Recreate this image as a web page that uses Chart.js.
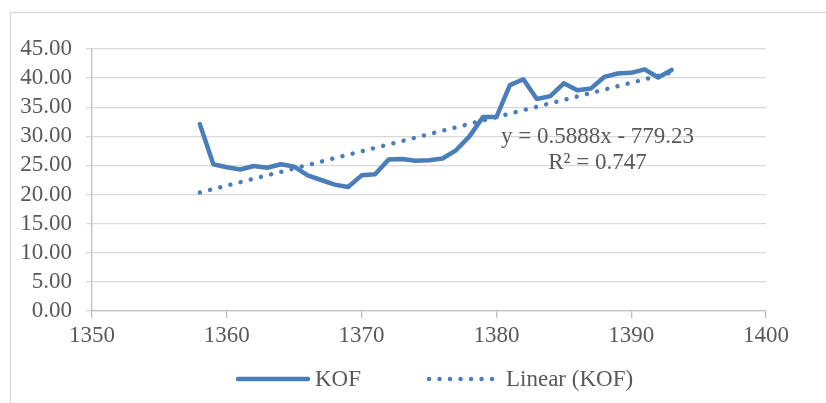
<!DOCTYPE html>
<html>
<head>
<meta charset="utf-8">
<script src="https://cdn.jsdelivr.net/npm/chart.js@4.4.1/dist/chart.umd.min.js"></script>
<style>
  html, body { margin: 0; padding: 0; background: #ffffff; }
  #wrap { width: 826px; height: 403px; position: relative; }
</style>
</head>
<body>
<div id="wrap"><canvas id="myChart" width="826" height="403"></canvas></div>
<script>
// years and KOF index values
var Anios = [1358, 1359, 1360, 1361, 1362, 1363, 1364, 1365, 1366, 1367, 1368, 1369,
             1370, 1371, 1372, 1373, 1374, 1375, 1376, 1377, 1378, 1379, 1380, 1381,
             1382, 1383, 1384, 1385, 1386, 1387, 1388, 1389, 1390, 1391, 1392, 1393]
var KOF = [32.1, 25.2, 24.7, 24.3, 24.9, 24.6, 25.2, 24.8, 23.3, 22.5, 21.7, 21.3,
           23.3, 23.5, 26.0, 26.1, 25.8, 25.9, 26.2, 27.6, 30.0, 33.3, 33.3, 38.8,
           39.8, 36.4, 36.9, 39.1, 37.9, 38.2, 40.2, 40.8, 40.9, 41.5, 40.1, 41.4]

// trend line as printed on the chart
var Pendiente = 0.5888
var Intercepto = -779.23
var Ecuacion = ['y = 0.5888x - 779.23', 'R\u00B2 = 0.747']

var EjeX = [1350, 1360, 1370, 1380, 1390, 1400]
var EjeY = [0, 5, 10, 15, 20, 25, 30, 35, 40, 45]

var Leyenda = ['KOF', 'Linear (KOF)']

var azul = '#4A7EBB'
var gris = '#595959'
var fuente = '"Liberation Serif", "Times New Roman", serif'

var puntos = Anios.map(function (a, i) { return { x: a, y: KOF[i] } })
var x0 = Anios[0], x1 = Anios[Anios.length - 1]
var tendencia = [
    { x: x0, y: Pendiente * x0 + Intercepto },
    { x: x1, y: Pendiente * x1 + Intercepto }
]

var marco = {
    id: 'marco',
    beforeDraw: function (chart) {
        var ctx = chart.ctx
        ctx.save()
        ctx.strokeStyle = '#D9D9D9'
        ctx.lineWidth = 1.3
        ctx.strokeRect(10.5, 12.5, 830, 400)
        ctx.restore()
    },
    afterDraw: function (chart) {
        var ctx = chart.ctx
        var sx = chart.scales.x, sy = chart.scales.y
        ctx.save()
        // equation label
        ctx.fillStyle = gris
        ctx.font = '23px ' + fuente
        ctx.textAlign = 'center'
        ctx.textBaseline = 'middle'
        var cx = sx.getPixelForValue(1387.5)
        ctx.fillText(Ecuacion[0], cx, sy.getPixelForValue(29.9))
        ctx.fillText(Ecuacion[1], cx, sy.getPixelForValue(25.4))

        // legend
        var ds = chart.data.datasets
        var items = [{ x: 238, tx: 315 }, { x: 429, tx: 506 }]
        var ly = 379
        ds.forEach(function (d, i) {
            ctx.save()
            ctx.strokeStyle = d.borderColor
            ctx.lineWidth = d.borderWidth
            ctx.lineCap = d.borderCapStyle || 'round'
            ctx.setLineDash(d.borderDash || [])
            ctx.beginPath()
            ctx.moveTo(items[i].x, ly)
            ctx.lineTo(items[i].x + 70, ly)
            ctx.stroke()
            ctx.restore()
            ctx.fillStyle = gris
            ctx.font = '23px ' + fuente
            ctx.textAlign = 'left'
            ctx.textBaseline = 'middle'
            ctx.fillText(Leyenda[i], items[i].tx, ly + 1)
        })
        ctx.restore()
    }
}

var ctx = document.getElementById('myChart')
var myChart = new Chart(ctx, {
    type: 'line',
    data: {
        datasets: [{
            label: Leyenda[0],
            data: puntos,
            fill: false,
            borderColor: azul,
            backgroundColor: azul,
            borderWidth: 4.5,
            borderCapStyle: 'round',
            borderJoinStyle: 'round',
            pointRadius: 0,
            tension: 0
        },
        {
            label: Leyenda[1],
            data: tendencia,
            fill: false,
            borderColor: azul,
            backgroundColor: azul,
            borderWidth: 4.5,
            borderCapStyle: 'round',
            borderDash: [0.01, 10.5],
            pointRadius: 0,
            tension: 0
        }]
    },
    options: {
        responsive: false,
        animation: false,
        events: [],
        layout: { padding: { top: 49, right: 60, bottom: 52, left: 0 } },
        plugins: {
            legend: { display: false },
            tooltip: { enabled: false }
        },
        scales: {
            x: {
                type: 'linear',
                min: EjeX[0],
                max: EjeX[EjeX.length - 1],
                afterBuildTicks: function (s) { s.ticks = EjeX.map(function (v) { return { value: v } }) },
                afterFit: function (s) { s.height = 40 },
                ticks: {
                    color: gris,
                    font: { family: fuente, size: 23 },
                    padding: 4,
                    autoSkip: false,
                    maxRotation: 0,
                    callback: function (v) { return String(v) }
                },
                grid: {
                    drawOnChartArea: false,
                    drawTicks: true,
                    tickLength: 7,
                    color: '#BFBFBF',
                    lineWidth: 1.3
                },
                border: { display: true, color: '#BFBFBF', width: 1.3 }
            },
            y: {
                min: EjeY[0],
                max: EjeY[EjeY.length - 1],
                afterBuildTicks: function (s) { s.ticks = EjeY.map(function (v) { return { value: v } }) },
                afterFit: function (s) { s.width = 92 },
                ticks: {
                    color: gris,
                    font: { family: fuente, size: 23 },
                    padding: 14,
                    autoSkip: false,
                    callback: function (v) { return Number(v).toFixed(2) }
                },
                grid: {
                    color: '#D9D9D9',
                    lineWidth: 1.3,
                    drawTicks: true,
                    tickLength: 6
                },
                border: { display: true, color: '#BFBFBF', width: 1.3 }
            }
        }
    },
    plugins: [marco]
})
</script>
</body>
</html>
